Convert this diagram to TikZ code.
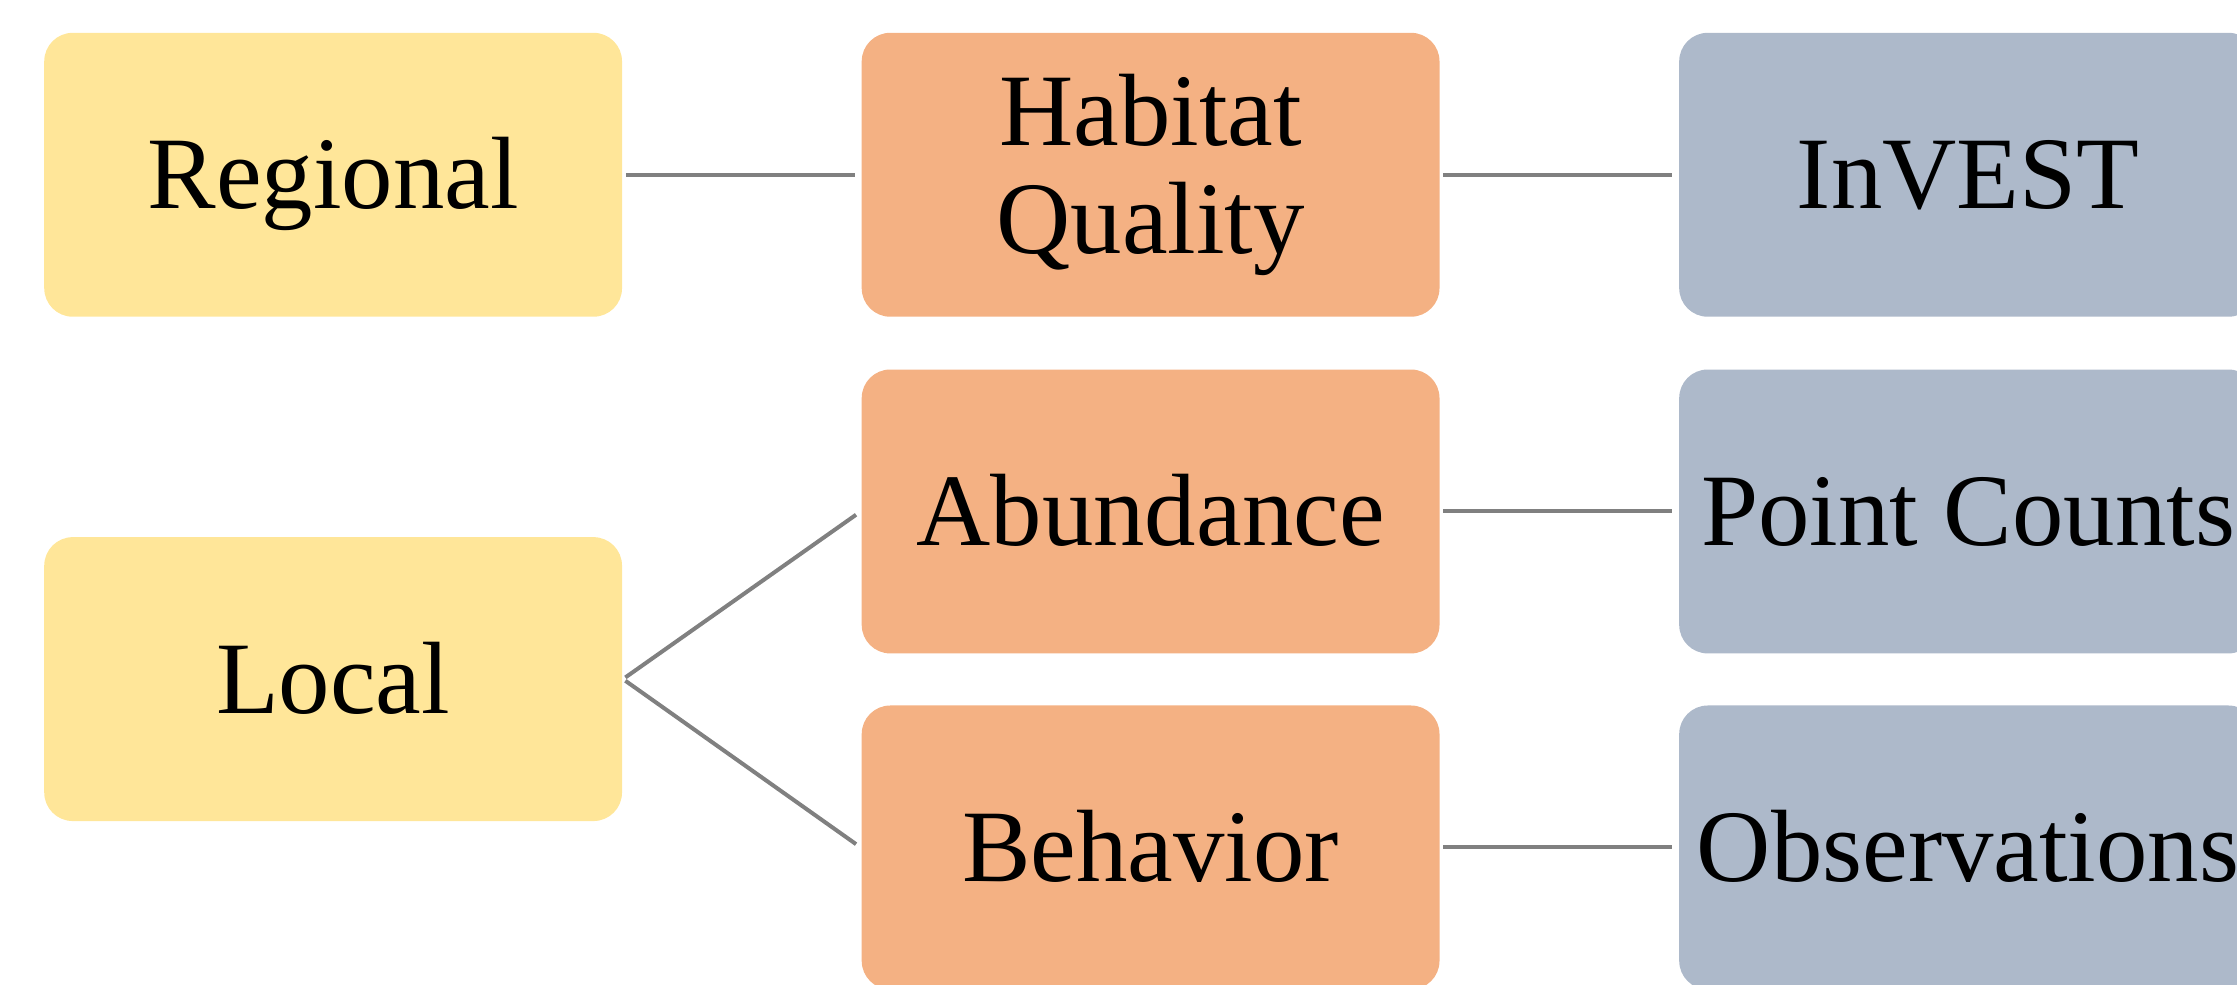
\documentclass[tikz,border=0pt]{standalone}
\usepackage{fontspec}
\setmainfont{Liberation Serif}
\definecolor{scaleyellow}{HTML}{FFE699}
\definecolor{metricorange}{HTML}{F4B183}
\definecolor{methodblue}{HTML}{ADB9CA}
\tikzset{
  box/.style={rounded corners=0.2cm, minimum width=4.05cm, minimum height=1.99cm,
    inner sep=0pt, align=center, text height=18pt, text depth=4.4pt,
    font=\fontsize{20.5}{21.6}\selectfont},
  scalebox/.style={box, fill=scaleyellow},
  metricbox/.style={box, fill=metricorange},
  methodbox/.style={box, fill=methodblue},
  link/.style={draw=gray, line width=0.8pt, shorten <=0.02cm, shorten >=0.04cm}
}
\begin{document}
\begin{tikzpicture}
      \useasboundingbox (0,0) rectangle (15.68,-6.90);
      \draw
        (2.335,-1.225) node[scalebox] (regional){Regional}
        (2.335,-4.76) node[scalebox] (local){Local}
        (8.065,-1.225) node[metricbox, text height=, text depth=] (habitat){Habitat\\Quality}
        (8.065,-3.585) node[metricbox] (abundance){Abundance}
        (8.065,-5.94) node[metricbox] (behavior){Behavior}
        (13.795,-1.225) node[methodbox] (invest){InVEST}
        (13.795,-3.585) node[methodbox] (counts){Point Counts}
        (13.795,-5.94) node[methodbox] (obs){Observations};
      \begin{scope}[link]
        \draw (regional.east) to (habitat.west);
        \draw (local.east) to (abundance.west);
        \draw (local.east) to (behavior.west);
        \draw (habitat.east) to (invest.west);
        \draw (abundance.east) to (counts.west);
        \draw (behavior.east) to (obs.west);
      \end{scope}
    \end{tikzpicture}
\end{document}
